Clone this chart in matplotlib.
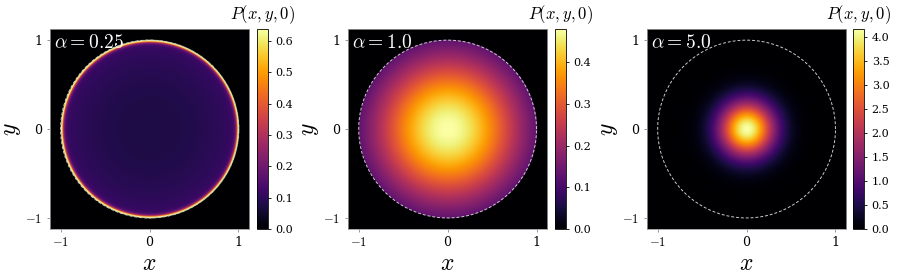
import numpy as np
import matplotlib
matplotlib.use('Agg')
import matplotlib.pyplot as plt

plt.rcParams['font.family'] = 'DejaVu Serif'
plt.rcParams['mathtext.fontset'] = 'cm'

# values
alphas = ['0.25', '1.0', '5.0']
vmaxes = [0.638, 0.48, 4.16]
cbar_ticks = [
    [0.0, 0.1, 0.2, 0.3, 0.4, 0.5, 0.6],
    [0.0, 0.1, 0.2, 0.3, 0.4],
    [0.0, 0.5, 1.0, 1.5, 2.0, 2.5, 3.0, 3.5, 4.0],
]
# radial profile parameters per panel: centre value, gaussian rate, rim peak, rim width
centre_vals = [0.075, 0.48, 4.16]
decay_rates = [-0.45, 1.3, 10.5]
rim_peaks = [1.2, 0.0, 0.0]
rim_widths = [0.015, 1.0, 1.0]

lim = 1.12
n = 500
g = np.linspace(-lim, lim, n)
X, Y = np.meshgrid(g, g)
R = np.sqrt(X**2 + Y**2)

fig = plt.figure(figsize=(8.97, 2.74), dpi=100)
ax_left = [0.0557, 0.388, 0.7213]
cb_left = [0.2865, 0.6187, 0.951]
bottom, height = 0.164, 0.730

for i in range(3):
    ax = fig.add_axes([ax_left[i], bottom, 0.222, height])
    cax = fig.add_axes([cb_left[i], bottom, 0.0123, height])
    P = centre_vals[i] * np.exp(-decay_rates[i] * R**2)
    P = P + rim_peaks[i] * np.exp(-(1 - R) / rim_widths[i])
    P[R > 1] = 0.0
    im = ax.imshow(P, origin='lower', extent=[-lim, lim, -lim, lim],
                   cmap='inferno', vmin=0, vmax=vmaxes[i], interpolation='bilinear')
    th = np.linspace(0, 2 * np.pi, 400)
    ax.plot(np.cos(th), np.sin(th), ls=(0, (3, 2)), color='#cccccc', lw=0.7)
    ax.set_xlim(-lim, lim)
    ax.set_ylim(-lim, lim)
    ax.set_xticks([-1, 0, 1])
    ax.set_yticks([-1, 0, 1])
    ax.set_xticklabels(['$-1$', '0', '1'])
    ax.set_yticklabels(['$-1$', '0', '1'])
    ax.tick_params(labelsize=9, length=2, width=0.6, color='#888888')
    for s in ax.spines.values():
        s.set_color('#999999')
        s.set_linewidth(0.6)
    ax.set_xlabel('$x$', fontsize=17, labelpad=2)
    ax.set_ylabel('$y$', fontsize=17, labelpad=2)
    ax.text(0.02, 0.975, r'$\alpha = %s$' % alphas[i], transform=ax.transAxes,
            color='white', fontsize=14, va='top', ha='left')

    cb = fig.colorbar(im, cax=cax)
    cb.set_ticks(cbar_ticks[i])
    cb.ax.tick_params(labelsize=8, length=2, width=0.6)
    cb.outline.set_linewidth(0.6)
    cb.ax.set_title('$P(x,y,0)$', fontsize=12, pad=7)

fig.savefig('out.png', dpi=100)
